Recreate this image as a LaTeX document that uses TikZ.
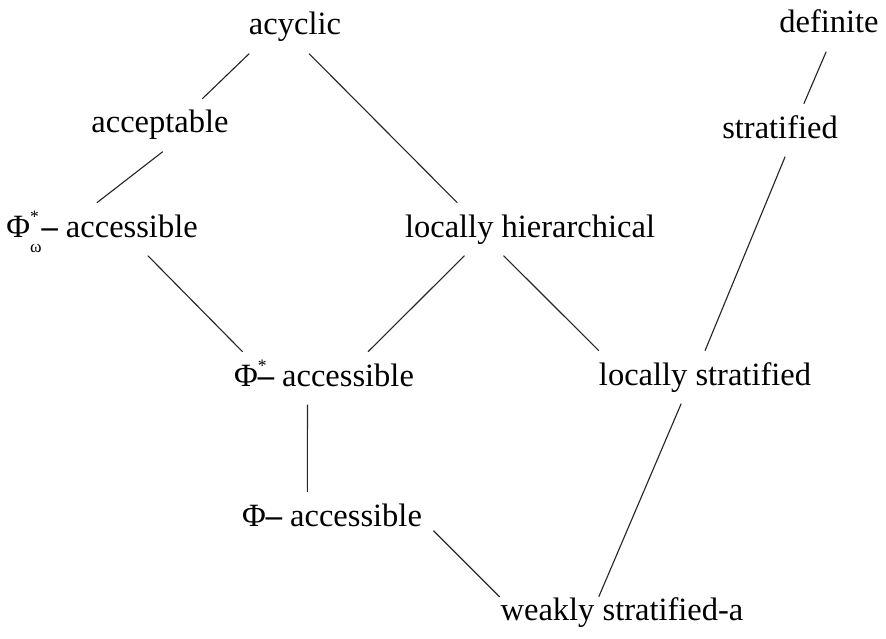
\documentclass[tikz,border=0pt]{standalone}
\usepackage{fontspec}
\setmainfont{Liberation Serif}
\newcommand{\phiacc}[2]{Φ\rlap{\raisebox{1.0ex}{\scriptsize #1}}\raisebox{-1.05ex}{\scriptsize #2}{\bfseries –}}

\begin{document}
\begin{tikzpicture}[x=0.4pt,y=-0.4pt,
  lbl/.style={inner sep=4.4pt,anchor=base,text height=9.1pt,text depth=2.86pt,
    font=\fontsize{13pt}{15pt}\selectfont},
  edge/.style={line width=0.45pt,black!85}]

\useasboundingbox (0,0) rectangle (886,639);

%draw classes
    \node[lbl] (acyclic)  at (295,35)  {acyclic};
    \node[lbl] (definite) at (829,33)  {definite};
    \node[lbl] (accept)   at (160,133) {acceptable};
    \node[lbl] (strat)    at (780,138) {stratified};
    \node[lbl] (phiomega) at (102,237) {\phiacc{*}{ω} accessible};
    \node[lbl] (lochier)  at (530,237) {locally hierarchical};
    \node[lbl] (phistar)  at (324,386) {\phiacc{*}{} accessible};
    \node[lbl] (locstrat) at (705,385) {locally stratified};
    \node[lbl] (phi)      at (332,526) {\phiacc{}{} accessible};
    \node[lbl] (weak)     at (622,620) {weakly stratified-a};

%draw inclusions
  \foreach \a/\b in {acyclic.-150/accept.32, acyclic.-62/lochier.160,
      definite.-96/strat.48, strat.-79/locstrat.north,
      accept.-84/phiomega.101, phiomega.-30/phistar.162,
      lochier.-158/phistar.31, lochier.-135/locstrat.166,
      phistar.-122/phi.133}
    \draw[edge] (\a) -- (\b);
%these two reach into the label box
    \draw[edge,shorten >=-6pt] (phi.-7) -- (weak.169);
    \draw[edge,shorten >=-4.8pt] (locstrat.-132) -- (weak.125);

\end{tikzpicture}
\end{document}
